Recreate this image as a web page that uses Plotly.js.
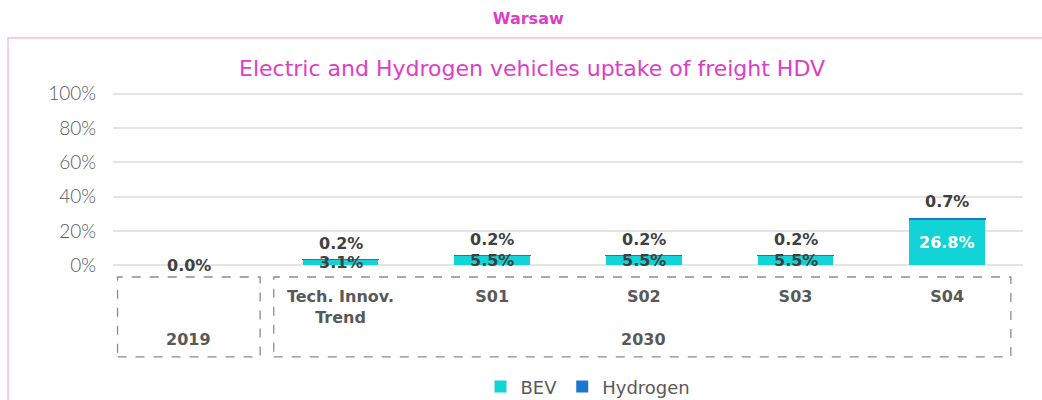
<!DOCTYPE html>
<html>
<head>
<meta charset="utf-8">
<script src="https://cdn.plot.ly/plotly-3.0.1.min.js"></script>
<style>html,body{margin:0;padding:0;background:#fff;}#chart{width:1042px;height:400px;}</style>
</head>
<body>
<div id="chart"></div>
<script>
const categories = ["2019", "Tech. Innov. Trend", "S01", "S02", "S03", "S04"];
const tickLabels = ["", "Tech. Innov.<br>Trend", "S01", "S02", "S03", "S04"];
const bevValues = [0.0, 3.1, 5.5, 5.5, 5.5, 26.8];
const hydrogenValues = [0.0, 0.2, 0.2, 0.2, 0.2, 0.7];
const yTickVals = [0, 20, 40, 60, 80, 100];
const yTickText = ["0%", "20%", "40%", "60%", "80%", "100%"];
const groupLabels = ["2019", "2030"];

const BEV_COLOR = "#12D3D6";
const H2_COLOR = "#1C76CF";
const MAGENTA = "#DD3EC4";
const GREY = "#595959";
const DARK = "#404040";
const FONT = "'DejaVu Sans', sans-serif";
const LIGHT_FONT = "Lato, 'DejaVu Sans', sans-serif";

const xIdx = categories.map((_, i) => i);

const traces = [
  {type: "bar", name: "BEV", x: xIdx, y: bevValues, marker: {color: BEV_COLOR}, width: 0.5, hoverinfo: "none"},
  {type: "bar", name: "Hydrogen", x: xIdx, y: hydrogenValues,
    marker: {color: H2_COLOR, line: {color: H2_COLOR, width: hydrogenValues.map(v => v > 0 ? 1 : 0)}},
    width: 0.5, hoverinfo: "none"}
];

const annotations = [];
bevValues.forEach((v, i) => {
  const big = v > 10;
  annotations.push({x: i, y: v / 2, xref: "x", yref: "y", text: v.toFixed(1) + "%", showarrow: false,
    yanchor: "middle", font: {family: FONT, size: 16, color: big ? "#ffffff" : DARK, weight: "bold"}});
});
hydrogenValues.forEach((v, i) => {
  if (v === 0) return;
  annotations.push({x: i, y: bevValues[i] + v, xref: "x", yref: "y", text: v.toFixed(1) + "%", showarrow: false,
    yanchor: "bottom", yshift: 5, font: {family: FONT, size: 16, color: DARK, weight: "bold"}});
});
// group labels
annotations.push({x: 0, y: -0.417, xref: "x", yref: "paper", text: groupLabels[0], showarrow: false,
  yanchor: "middle", font: {family: FONT, size: 16, color: GREY, weight: "bold"}});
annotations.push({x: 3, y: -0.417, xref: "x", yref: "paper", text: groupLabels[1], showarrow: false,
  yanchor: "middle", font: {family: FONT, size: 16, color: GREY, weight: "bold"}});
// chart title
annotations.push({x: 0.46, y: 1.137, xref: "paper", yref: "paper", text: "Electric and Hydrogen vehicles uptake of freight HDV",
  showarrow: false, yanchor: "middle", font: {family: FONT, size: 22, color: MAGENTA}});

const shapes = [
  {type: "rect", xref: "paper", yref: "paper", x0: -0.1154, x1: 1.06, y0: -0.9, y1: 1.309,
    line: {color: "#F2BDEA", width: 1.5}, fillcolor: "rgba(0,0,0,0)", layer: "below"},
  {type: "rect", xref: "x", yref: "paper", x0: -0.47, x1: 0.47, y0: -0.514, y1: -0.057,
    line: {color: "#8c8c8c", width: 1.3, dash: "dash"}},
  {type: "rect", xref: "x", yref: "paper", x0: 0.56, x1: 5.42, y0: -0.514, y1: -0.057,
    line: {color: "#8c8c8c", width: 1.3, dash: "dash"}}
];

const layout = {
  width: 1042, height: 400,
  margin: {l: 113, r: 19, t: 92, b: 133},
  paper_bgcolor: "#ffffff", plot_bgcolor: "#ffffff",
  barmode: "stack",
  title: {text: "<b>Warsaw</b>", x: 0.507, xanchor: "center", y: 0.955, yanchor: "middle",
    font: {family: FONT, size: 16, color: MAGENTA}},
  xaxis: {range: [-0.5, 5.5], tickvals: xIdx, ticktext: tickLabels, showgrid: false, zeroline: false,
    showline: false, ticks: "", ticklabelstandoff: 18, automargin: false,
    tickfont: {family: FONT, size: 16, color: GREY, weight: "bold"}},
  yaxis: {range: [-1, 101], tickvals: yTickVals, ticktext: yTickText, showgrid: true, gridcolor: "#e4e4e4",
    gridwidth: 2, zeroline: false, showline: false, ticks: "", ticklabelstandoff: 16, automargin: false,
    tickfont: {family: LIGHT_FONT, size: 19, color: GREY, weight: 300}},
  showlegend: true,
  legend: {orientation: "h", x: 0.522, xanchor: "center", xref: "paper", yref: "container", y: 0.033, yanchor: "middle",
    font: {family: FONT, size: 18, color: GREY}, itemwidth: 30, traceorder: "normal"},
  annotations: annotations,
  shapes: shapes,
  bargap: 0.5
};

Plotly.newPlot("chart", traces, layout, {staticPlot: true, displayModeBar: false});
</script>
</body>
</html>
